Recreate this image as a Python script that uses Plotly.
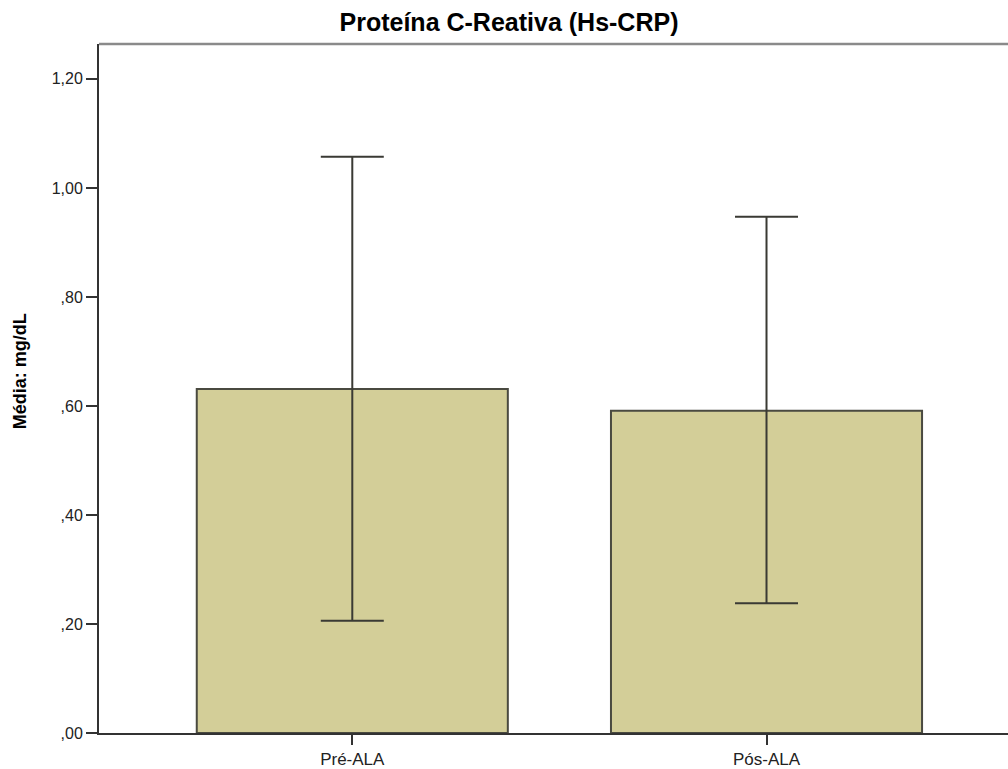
import plotly.graph_objects as go

# Mean hs-CRP (mg/dL) with 95% CI bounds, before and after ALA
categories = ["Pré-ALA", "Pós-ALA"]
means = [0.631, 0.591]
ci_upper = [1.057, 0.947]
ci_lower = [0.206, 0.238]

y_tick_vals = [0.0, 0.2, 0.4, 0.6, 0.8, 1.0, 1.2]
y_tick_text = [",00", ",20", ",40", ",60", ",80", "1,00", "1,20"]

x_pos = list(range(len(categories)))
err_plus = [u - m for u, m in zip(ci_upper, means)]
err_minus = [m - l for m, l in zip(means, ci_lower)]

FONT = "Liberation Sans, Arial, sans-serif"

fig = go.Figure()
fig.add_trace(go.Bar(
    x=x_pos,
    y=means,
    width=0.751,
    marker=dict(color="#d3ce98", line=dict(color="#4a4a40", width=2)),
    error_y=dict(
        type="data",
        symmetric=False,
        array=err_plus,
        arrayminus=err_minus,
        color="#3a3a34",
        thickness=2,
        width=31.5,
    ),
    hoverinfo="skip",
))

# Light grey frame line along the top of the plot area
fig.add_shape(type="line", xref="paper", yref="paper",
              x0=0, x1=1, y0=1, y1=1,
              line=dict(color="#8a8a8a", width=2.5))

# Rotated y-axis title
fig.add_annotation(text="<b>Média: mg/dL</b>", xref="paper", yref="paper",
                   x=(20 - 99) / 909, y=(733.3 - 371.7) / 688.8,
                   xanchor="center", yanchor="middle", textangle=-90,
                   showarrow=False, font=dict(family=FONT, size=18, color="#000000"))

fig.update_layout(
    width=1008, height=769,
    margin=dict(l=99, r=0, t=44, b=36),
    paper_bgcolor="#ffffff",
    plot_bgcolor="#ffffff",
    showlegend=False,
    title=dict(text="<b>Proteína C-Reativa (Hs-CRP)</b>",
               x=509 / 1008, xref="container",
               y=1 - 22 / 769, yref="container",
               xanchor="center", yanchor="middle",
               font=dict(family=FONT, size=25, color="#000000")),
    xaxis=dict(
        range=[-0.6115, 1.583],
        automargin=False,
        tickvals=x_pos,
        ticktext=categories,
        ticks="outside", ticklen=10, tickwidth=2, tickcolor="#333333",
        showline=True, linecolor="#333333", linewidth=2,
        showgrid=False, zeroline=False,
        tickfont=dict(family=FONT, size=17, color="#222222"),
    ),
    yaxis=dict(
        range=[0, 1.264],
        automargin=False,
        tickvals=y_tick_vals,
        ticktext=y_tick_text,
        ticks="outside", ticklen=11, tickwidth=2, tickcolor="#333333",
        showline=True, linecolor="#333333", linewidth=2,
        showgrid=False, zeroline=False,
        tickfont=dict(family=FONT, size=16, color="#222222"),
    ),
)

fig.write_html("out.html")
